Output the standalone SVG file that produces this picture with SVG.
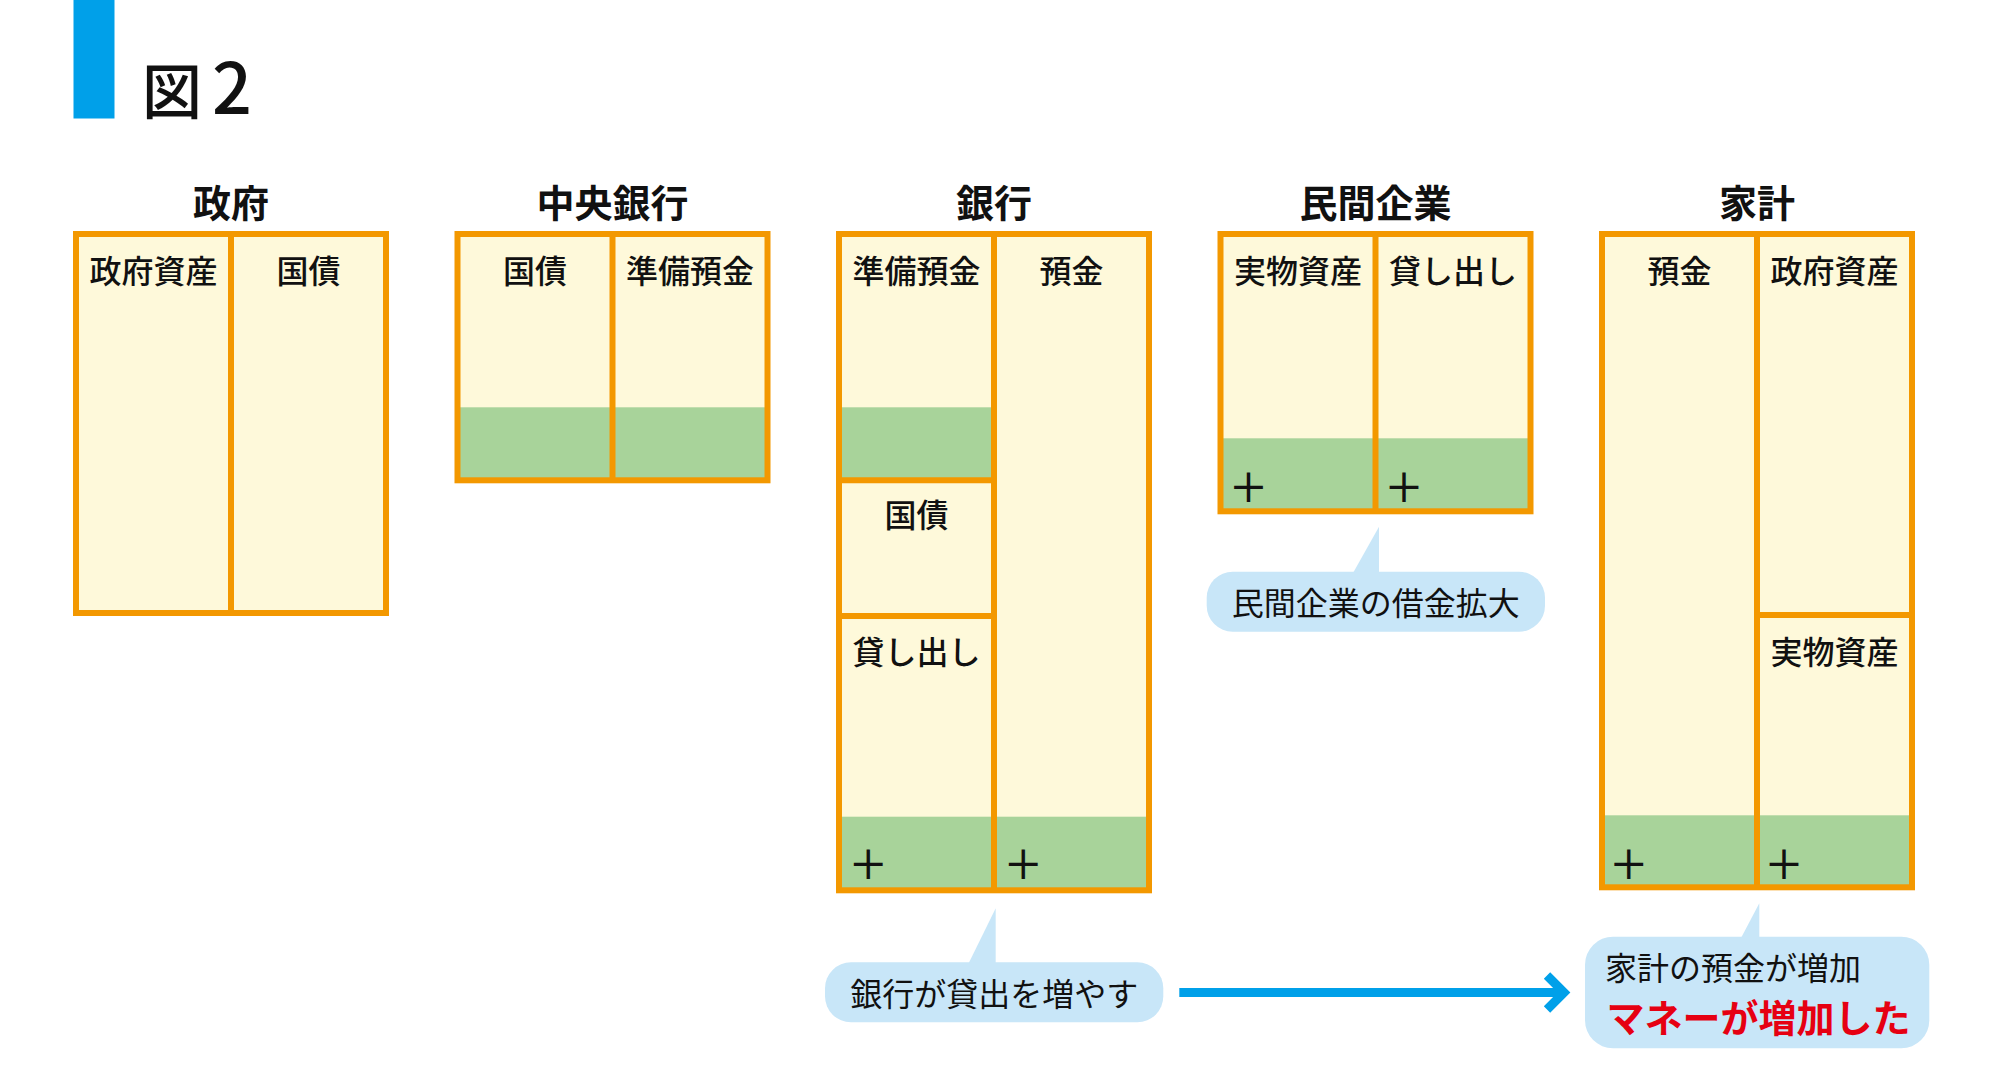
<svg xmlns="http://www.w3.org/2000/svg" width="2013" height="1087" viewBox="0 0 2013 1087">
<style>
text{font-family:"Noto Sans CJK JP","Noto Sans",sans-serif;fill:#111}
.ttl{font-size:38px;font-weight:700;text-anchor:middle}
.lbl{font-size:32px;font-weight:500;text-anchor:middle}
.plus{font-size:40px;font-weight:500;text-anchor:middle}
.cell{fill:#fef9da}
.grn{fill:#a8d39a}
.frame{fill:none;stroke:#f39800;stroke-width:6}
.div{stroke:#f39800;stroke-width:6}
.bub{fill:#c8e6f8}
.btxt{font-size:32px;font-weight:400}
</style>
<rect x="73.5" y="0" width="41" height="118.5" fill="#00a0e9"/>
<text x="142" y="114" font-size="60" font-weight="500">図<tspan x="212" font-size="70">2</tspan></text>

<g id="seifu">
<text class="ttl" x="231" y="216.5">政府</text>
<rect class="cell" x="76" y="234" width="310" height="379"/>
<rect class="frame" x="76" y="234" width="310" height="379"/>
<line class="div" x1="231" y1="234" x2="231" y2="613"/>
<text class="lbl" x="153.5" y="283">政府資産</text>
<text class="lbl" x="308.5" y="283">国債</text>
</g>

<g id="chuo">
<text class="ttl" x="612.5" y="216.5">中央銀行</text>
<rect class="cell" x="457.5" y="234" width="310" height="246.3"/>
<rect class="grn" x="457.5" y="407.3" width="310" height="73"/>
<rect class="frame" x="457.5" y="234" width="310" height="246.3"/>
<line class="div" x1="612.5" y1="234" x2="612.5" y2="480.3"/>
<text class="lbl" x="535" y="283">国債</text>
<text class="lbl" x="690" y="283">準備預金</text>
</g>

<g id="ginko">
<text class="ttl" x="994" y="216.5">銀行</text>
<rect class="cell" x="839" y="234" width="310" height="656.3"/>
<rect class="grn" x="839" y="407.3" width="155" height="73"/>
<rect class="grn" x="839" y="816.7" width="310" height="73.6"/>
<rect class="frame" x="839" y="234" width="310" height="656.3"/>
<line class="div" x1="994" y1="234" x2="994" y2="890.3"/>
<line class="div" x1="839" y1="480.3" x2="994" y2="480.3"/>
<line class="div" x1="839" y1="616" x2="994" y2="616"/>
<text class="lbl" x="916.5" y="283">準備預金</text>
<text class="lbl" x="1071.5" y="283">預金</text>
<text class="lbl" x="916.5" y="527">国債</text>
<text class="lbl" x="916.5" y="663.5">貸し出し</text>
<text class="plus" x="868.3" y="878.5">＋</text>
<text class="plus" x="1023.3" y="878.5">＋</text>
</g>

<g id="minkan">
<text class="ttl" x="1375.5" y="216.5">民間企業</text>
<rect class="cell" x="1220.5" y="234" width="310" height="277.3"/>
<rect class="grn" x="1220.5" y="438.3" width="310" height="73"/>
<rect class="frame" x="1220.5" y="234" width="310" height="277.3"/>
<line class="div" x1="1375.5" y1="234" x2="1375.5" y2="511.3"/>
<text class="lbl" x="1298" y="283">実物資産</text>
<text class="lbl" x="1453" y="283">貸し出し</text>
<text class="plus" x="1248.4" y="501.5">＋</text>
<text class="plus" x="1404" y="501.5">＋</text>
</g>

<g id="kakei">
<text class="ttl" x="1757" y="216.5">家計</text>
<rect class="cell" x="1602" y="234" width="310" height="653.3"/>
<rect class="grn" x="1602" y="815.3" width="310" height="72"/>
<rect class="frame" x="1602" y="234" width="310" height="653.3"/>
<line class="div" x1="1757" y1="234" x2="1757" y2="887.3"/>
<line class="div" x1="1757" y1="615" x2="1912" y2="615"/>
<text class="lbl" x="1679.5" y="283">預金</text>
<text class="lbl" x="1834.5" y="283">政府資産</text>
<text class="lbl" x="1834.5" y="663.5">実物資産</text>
<text class="plus" x="1628.7" y="878.5">＋</text>
<text class="plus" x="1784" y="878.5">＋</text>
</g>

<g id="bubble-minkan">
<polygon class="bub" points="1353,573 1379,526.7 1379,573"/>
<rect class="bub" x="1206.7" y="571.7" width="338.3" height="60" rx="26"/>
<text class="btxt" x="1375.8" y="615" text-anchor="middle">民間企業の借金拡大</text>
</g>

<g id="bubble-ginko">
<polygon class="bub" points="968.3,964 995.7,908.3 995.7,964"/>
<rect class="bub" x="825" y="962.3" width="338.3" height="60" rx="26"/>
<text class="btxt" x="994.2" y="1006" text-anchor="middle">銀行が貸出を増やす</text>
</g>

<g id="bubble-kakei">
<polygon class="bub" points="1741,938 1759.3,903.3 1759.3,938"/>
<rect class="bub" x="1585" y="936.7" width="344.3" height="111.6" rx="28"/>
<text class="btxt" x="1605" y="979.5">家計の預金が増加</text>
<text x="1606.5" y="1032" font-size="38" font-weight="700" style="fill:#e60012">マネーが増加した</text>
</g>

<g id="connectors">
<line x1="1179.3" y1="992.5" x2="1562" y2="992.5" stroke="#00a0e9" stroke-width="9"/>
<polyline points="1547,975.5 1564,992.5 1547,1009.5" fill="none" stroke="#00a0e9" stroke-width="9" stroke-linejoin="miter"/>
</g>
</svg>
